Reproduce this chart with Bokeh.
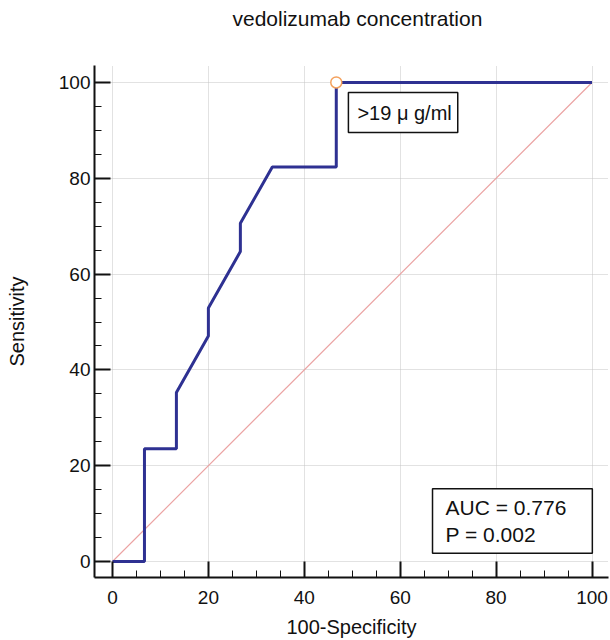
from bokeh.plotting import figure
from bokeh.models import Label, FixedTicker, Range1d
from bokeh.embed import file_html
from bokeh.resources import INLINE

# ROC curve points (100-Specificity, Sensitivity)
fpr = [0.0, 6.67, 6.67, 13.33, 13.33, 20.0, 20.0, 26.67, 26.67, 33.33, 46.67, 46.67, 100.0]
tpr = [0.0, 0.0, 23.53, 23.53, 35.29, 47.06, 52.94, 64.71, 70.59, 82.35, 82.35, 100.0, 100.0]
diag_x = [0, 100]
diag_y = [0, 100]
cut_x = [46.67]
cut_y = [100.0]
ticks = [0, 20, 40, 60, 80, 100]
title_text = "vedolizumab concentration"
x_label = "100-Specificity"
y_label = "Sensitivity"
cut_text = ">19 \u03bc g/ml"
stats_text = "AUC = 0.776\nP = 0.002"

FONT = "Liberation Sans"

p = figure(width=610, height=640, output_backend="svg", toolbar_location=None,
           x_range=Range1d(-3.75, 103.44), y_range=Range1d(-3.33, 103.54),
           min_border_left=94, min_border_right=2, min_border_top=65, min_border_bottom=62)
p.outline_line_color = None
p.background_fill_color = "white"

# trailing empty line lifts the title towards the top of the canvas
p.title.text = title_text + "\n"
p.title.align = "left"
p.title.offset = 138
p.title.text_font = FONT
p.title.text_font_size = "21px"
p.title.text_font_style = "normal"
p.title.text_color = "#111111"
p.title.text_line_height = 1.35
p.title.standoff = 8

for ax in (p.xaxis[0], p.yaxis[0]):
    ax.ticker = FixedTicker(ticks=ticks, minor_ticks=list(range(0, 101, 5)))
    ax.axis_line_width = 2
    ax.axis_line_color = "#111111"
    ax.major_tick_in = 16
    ax.major_tick_out = 0
    ax.major_tick_line_width = 2
    ax.major_tick_line_color = "#111111"
    ax.minor_tick_in = 7
    ax.minor_tick_out = 0
    ax.minor_tick_line_width = 1
    ax.minor_tick_line_color = "#111111"
    ax.major_label_text_font = FONT
    ax.major_label_text_font_size = "19px"
    ax.major_label_text_color = "#111111"
    ax.axis_label_text_font = FONT
    ax.axis_label_text_font_size = "20px"
    ax.axis_label_text_font_style = "normal"
    ax.axis_label_text_color = "#111111"

p.xaxis.axis_label = x_label
p.yaxis.axis_label = y_label
p.xaxis.major_label_standoff = 13
p.xaxis.axis_label_standoff = 9
p.yaxis.major_label_standoff = 4
p.yaxis.axis_label_standoff = 28

p.xgrid.ticker = FixedTicker(ticks=ticks)
p.ygrid.ticker = FixedTicker(ticks=ticks)
for g in (p.xgrid[0], p.ygrid[0]):
    g.grid_line_color = "#c4c4c4"
    g.grid_line_dash = "1 1"
    g.grid_line_width = 1

p.line(diag_x, diag_y, line_color="#eba3a3", line_width=1.2)
p.line(fpr, tpr, line_color="#2e3192", line_width=3)
p.scatter(cut_x, cut_y, marker="circle", size=11, line_color="#f4a15d",
          fill_color="white", line_width=1.5)

lab1 = Label(x=49.2, y=97.9, text=cut_text, anchor="top_left",
             text_font=FONT, text_font_size="20px", text_color="#111111",
             border_line_color="#111111", border_line_width=1.5,
             background_fill_color="white",
             padding=dict(left=9, right=6, top=9, bottom=9))
p.add_layout(lab1)

lab2 = Label(x=66.74, y=15.2, text=stats_text, anchor="top_left",
             text_font=FONT, text_font_size="21px", text_color="#111111",
             border_line_color="#111111", border_line_width=1.5,
             background_fill_color="white",
             padding=dict(left=13, right=26, top=7, bottom=7))
p.add_layout(lab2)

open("out.html", "w").write(file_html(p, INLINE))
